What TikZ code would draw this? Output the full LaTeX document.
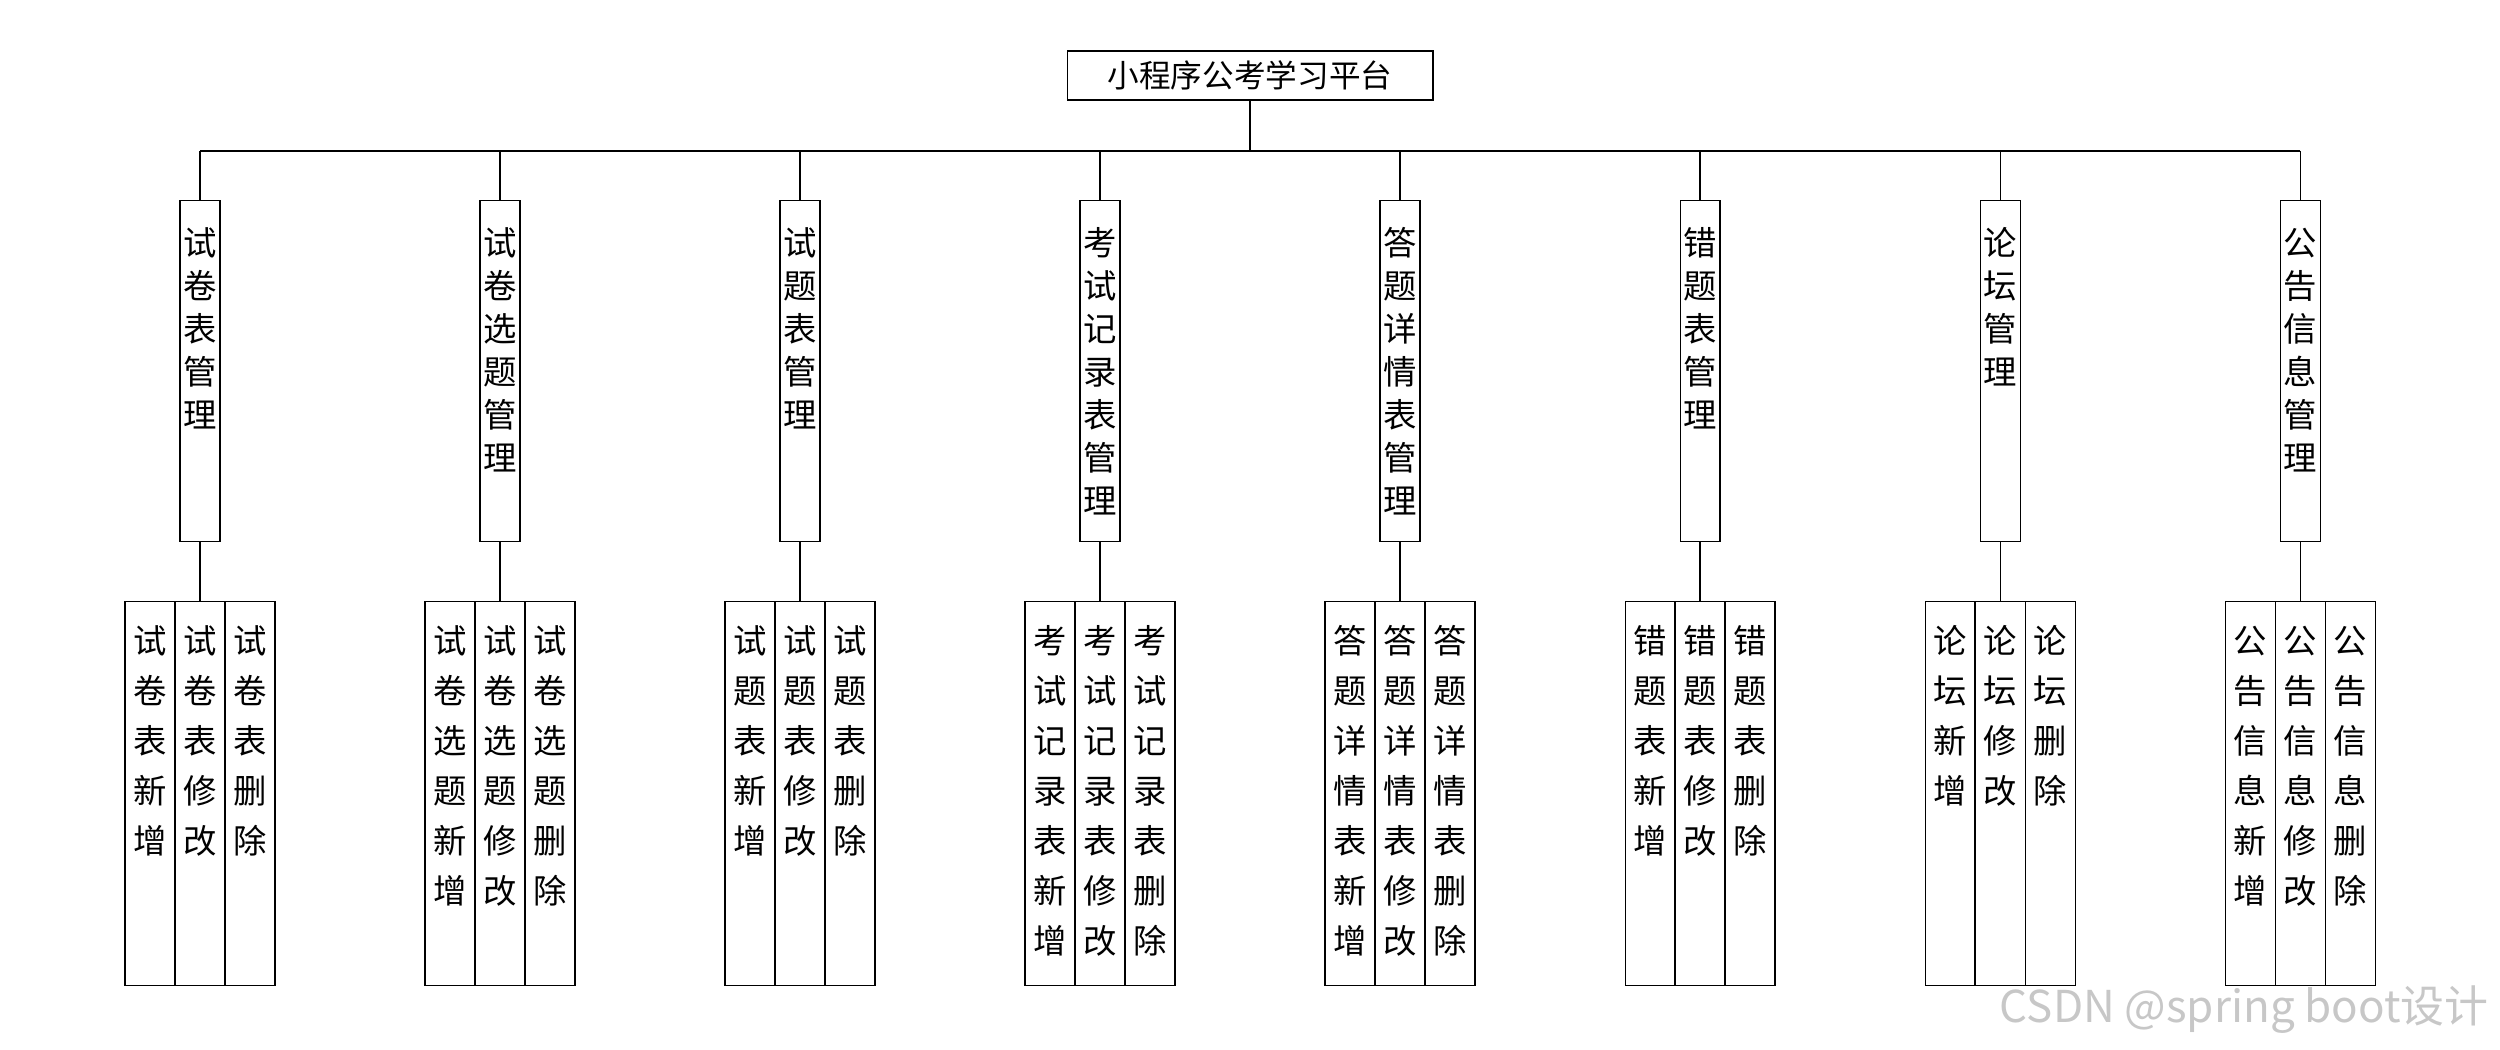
\documentclass[tikz,border=0pt]{standalone}
\usepackage{fontspec}
\setmainfont{Noto Sans CJK SC}
\begin{document}
\begin{tikzpicture}[x=0.02cm,y=-0.02cm,line width=0.6pt,
  topbox/.style={draw,inner sep=0pt,minimum width=7.32cm,minimum height=0.98cm,font=\fontsize{18}{20}\selectfont},
  modbox/.style={draw,anchor=north,inner sep=0pt,text width=0.8cm,align=center,text height=1.095cm,text depth=5.73cm,font=\fontsize{19}{24.5}\selectfont},
  opbox/.style={draw,anchor=north,inner sep=0pt,text width=1cm,align=center,text height=1.035cm,text depth=6.645cm,font=\fontsize{19}{28.5}\selectfont}]
\useasboundingbox (0,0) rectangle (2500,1050);

\node[topbox] (platform) at (1250,75.5) {小程序公考学习平台};
\coordinate (bus) at (1250,151);

\node[modbox] (shijuan) at (200,200) {试\\卷\\表\\管\\理};
\node[modbox] (xuanti) at (500,200) {试\\卷\\选\\题\\管\\理};
\node[modbox] (shiti) at (800,200) {试\\题\\表\\管\\理};
\node[modbox] (kaoshi) at (1100,200) {考\\试\\记\\录\\表\\管\\理};
\node[modbox] (dati) at (1400,200) {答\\题\\详\\情\\表\\管\\理};
\node[modbox] (cuoti) at (1700,200) {错\\题\\表\\管\\理};
\node[modbox] (luntan) at (2000,200) {论\\坛\\管\\理};
\node[modbox] (gonggao) at (2300,200) {公\\告\\信\\息\\管\\理};

\node[opbox] (shijuan-add) at (150,601) {试\\卷\\表\\新\\增};
\node[opbox] (shijuan-edit) at (200,601) {试\\卷\\表\\修\\改};
\node[opbox] (shijuan-del) at (250,601) {试\\卷\\表\\删\\除};
\node[opbox] (xuanti-add) at (450,601) {试\\卷\\选\\题\\新\\增};
\node[opbox] (xuanti-edit) at (500,601) {试\\卷\\选\\题\\修\\改};
\node[opbox] (xuanti-del) at (550,601) {试\\卷\\选\\题\\删\\除};
\node[opbox] (shiti-add) at (750,601) {试\\题\\表\\新\\增};
\node[opbox] (shiti-edit) at (800,601) {试\\题\\表\\修\\改};
\node[opbox] (shiti-del) at (850,601) {试\\题\\表\\删\\除};
\node[opbox] (kaoshi-add) at (1050,601) {考\\试\\记\\录\\表\\新\\增};
\node[opbox] (kaoshi-edit) at (1100,601) {考\\试\\记\\录\\表\\修\\改};
\node[opbox] (kaoshi-del) at (1150,601) {考\\试\\记\\录\\表\\删\\除};
\node[opbox] (dati-add) at (1350,601) {答\\题\\详\\情\\表\\新\\增};
\node[opbox] (dati-edit) at (1400,601) {答\\题\\详\\情\\表\\修\\改};
\node[opbox] (dati-del) at (1450,601) {答\\题\\详\\情\\表\\删\\除};
\node[opbox] (cuoti-add) at (1650,601) {错\\题\\表\\新\\增};
\node[opbox] (cuoti-edit) at (1700,601) {错\\题\\表\\修\\改};
\node[opbox] (cuoti-del) at (1750,601) {错\\题\\表\\删\\除};
\node[opbox] (luntan-add) at (1950,601) {论\\坛\\新\\增};
\node[opbox] (luntan-edit) at (2000,601) {论\\坛\\修\\改};
\node[opbox] (luntan-del) at (2050,601) {论\\坛\\删\\除};
\node[opbox] (gonggao-add) at (2250,601) {公\\告\\信\\息\\新\\增};
\node[opbox] (gonggao-edit) at (2300,601) {公\\告\\信\\息\\修\\改};
\node[opbox] (gonggao-del) at (2350,601) {公\\告\\信\\息\\删\\除};

\draw (platform) -- (bus);
\draw[line width=1.1pt] (shijuan |- bus) -- (gonggao |- bus);
\draw (shijuan |- bus) -- (shijuan);
\draw (xuanti |- bus) -- (xuanti);
\draw (shiti |- bus) -- (shiti);
\draw (kaoshi |- bus) -- (kaoshi);
\draw (dati |- bus) -- (dati);
\draw (cuoti |- bus) -- (cuoti);
\draw (luntan |- bus) -- (luntan);
\draw (gonggao |- bus) -- (gonggao);

\draw (shijuan) -- (shijuan-edit);
\draw (xuanti) -- (xuanti-edit);
\draw (shiti) -- (shiti-edit);
\draw (kaoshi) -- (kaoshi-edit);
\draw (dati) -- (dati-edit);
\draw (cuoti) -- (cuoti-edit);
\draw (luntan) -- (luntan-edit);
\draw (gonggao) -- (gonggao-edit);

\node[anchor=east,text=black!22,font=\fontsize{25}{25}\selectfont] (mark) at (2495,1010) {CSDN @spring boot设计};
\end{tikzpicture}
\end{document}
